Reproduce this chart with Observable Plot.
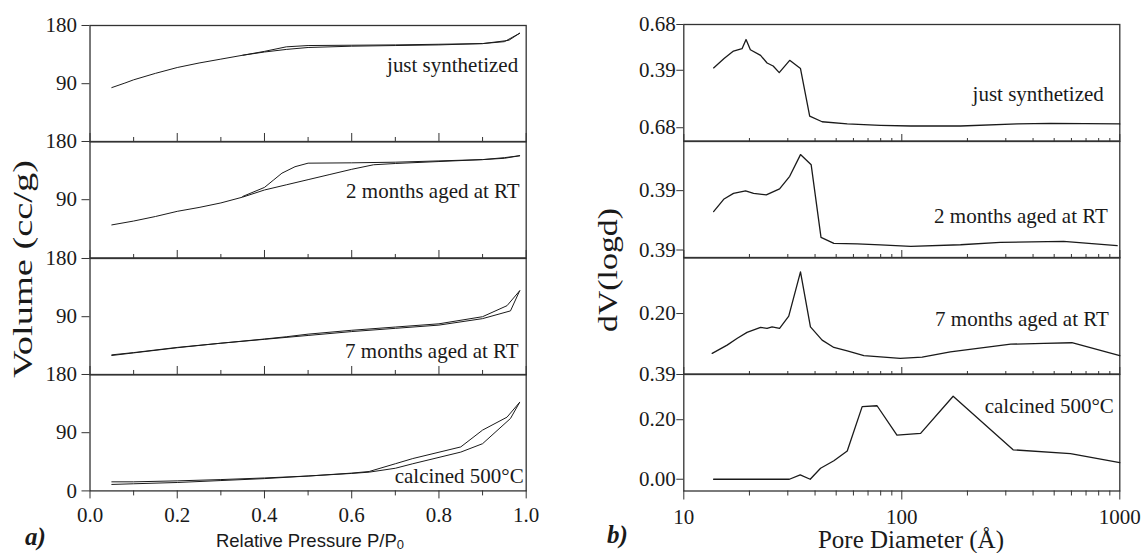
<!DOCTYPE html>
<html>
<head>
<meta charset="utf-8">
<script src="https://cdn.jsdelivr.net/npm/d3@7"></script>
<script src="https://cdn.jsdelivr.net/npm/@observablehq/plot@0.6"></script>
<style>
  html, body { margin: 0; padding: 0; background: #fff; }
  #fig { position: relative; width: 1143px; height: 553px; overflow: hidden; background: #fff; }
</style>
</head>
<body>
<div id="fig"></div>
<script>
// ---------------- DATA ----------------
// Left panel: N2 isotherms, Relative pressure P/P0 vs Volume (cc/g)
const pressureMajorTicks = [0, 0.2, 0.4, 0.6, 0.8, 1.0];
const pressureMinorTicks = [0.1, 0.3, 0.5, 0.7, 0.9];
const volumeTicksUpper = [180, 90];
const volumeTicksBottom = [180, 90, 0];
const sampleLabels = ["just synthetized", "2 months aged at RT", "7 months aged at RT", "calcined 500°C"];

const justAds = [[0.05,84],[0.08,91],[0.1,96],[0.15,106],[0.2,115],[0.25,122],[0.3,128],[0.35,134],[0.4,139],[0.45,143],[0.5,146],[0.6,148],[0.7,149],[0.8,150],[0.9,152],[0.95,155],[0.985,168]];
const justDes = [[0.985,168],[0.96,157],[0.9,152],[0.8,151],[0.7,150],[0.6,149.5],[0.5,149],[0.45,147],[0.4,140],[0.35,134]];
const twoAds = [[0.05,51],[0.1,57],[0.15,64],[0.2,72],[0.25,78],[0.3,85],[0.35,94],[0.4,105],[0.45,113],[0.5,121],[0.55,129],[0.6,137],[0.65,144],[0.7,146],[0.8,149],[0.9,152],[0.95,154],[0.985,158]];
const twoDes = [[0.985,158],[0.95,155],[0.9,152],[0.8,150],[0.7,148],[0.6,147],[0.5,146.5],[0.47,141],[0.44,131],[0.42,120],[0.4,109],[0.35,95]];
const sevenAds = [[0.05,30],[0.1,34],[0.2,42],[0.3,49],[0.4,55],[0.5,61],[0.6,67],[0.7,72],[0.8,77],[0.9,87],[0.964,99],[0.985,130]];
const sevenDes = [[0.985,130],[0.956,107],[0.9,90],[0.8,79],[0.7,74],[0.6,69],[0.5,63],[0.45,59],[0.4,55.5],[0.3,49],[0.2,42.5],[0.1,34.5],[0.05,31]];
const calcAds = [[0.05,10],[0.1,11],[0.2,13],[0.3,16],[0.4,19],[0.5,23],[0.6,27],[0.64,29],[0.7,35],[0.74,42],[0.85,60],[0.9,73],[0.964,112],[0.985,137]];
const calcDes = [[0.985,137],[0.956,114],[0.9,94],[0.85,68],[0.74,50],[0.7,42],[0.64,30],[0.6,27.5],[0.5,23],[0.4,20],[0.3,17.5],[0.2,15.5],[0.1,14],[0.05,14]];

// Right panel: pore size distribution, Pore diameter (Å) vs dV(logd)
const diameterMajorTicks = [10, 100, 1000];
const diameterMinorTicks = [20,30,40,50,60,70,80,90,200,300,400,500,600,700,800,900];

const justPsd = [[13.7,0.405],[15.3,0.464],[16.9,0.512],[18.5,0.527],[19.3,0.585],[20.2,0.52],[22.5,0.484],[24.1,0.436],[25.7,0.417],[27.4,0.375],[30.6,0.453],[34.3,0.401],[37.8,0.10],[43.1,0.064],[56.2,0.05],[79.8,0.041],[110,0.037],[186,0.037],[339,0.05],[481,0.054],[1000,0.05]];
const twoPsd = [[13.7,0.241],[15.3,0.320],[16.9,0.355],[19.2,0.371],[20.9,0.355],[23.9,0.345],[27.5,0.383],[30.6,0.462],[34.3,0.598],[38.4,0.534],[42.6,0.079],[48.8,0.042],[62.4,0.038],[79.8,0.032],[110,0.023],[186,0.033],[283,0.048],[552,0.054],[973,0.027]];
const sevenPsd = [[13.5,0.065],[15.8,0.093],[17.6,0.116],[19.5,0.136],[22.5,0.153],[24.1,0.150],[25.4,0.155],[27.5,0.150],[30.3,0.191],[34.3,0.341],[38.1,0.155],[43.1,0.110],[48.8,0.085],[56.2,0.073],[67,0.057],[98.4,0.048],[124,0.052],[167,0.070],[316,0.096],[448,0.099],[603,0.101],[1000,0.057]];
const calcPsd = [[13.7,0],[30.5,0],[34.2,0.0145],[38,0],[42.4,0.037],[48.8,0.062],[56.2,0.095],[65.8,0.244],[77,0.247],[95,0.148],[122,0.154],[172,0.279],[324,0.099],[594,0.086],[1000,0.056]];

const dvDomains = [[-0.058, 0.68], [-0.05, 0.68], [-0.005, 0.39], [-0.0395, 0.352]];
const dvTickValues = [[0.68, 0.39, 0.026], [0.372, 0], [0.2], [0.352, 0.2, 0]];
const dvTickLabels = [["0.68", "0.39", "0.68"], ["0.39", "0.39"], ["0.20"], ["0.39", "0.20", "0.00"]];

const isotherms = [[justAds, justDes], [twoAds, twoDes], [sevenAds, sevenDes], [calcAds, calcDes]];
const distributions = [justPsd, twoPsd, sevenPsd, calcPsd];

// ---------------- LAYOUT ----------------
const fig = document.getElementById("fig");
const SERIF = "'Liberation Serif', 'Times New Roman', serif";
const INK = "#1a1a1a";
const FRAME = "#333";

function place(svg, left, top) {
  svg.style.position = "absolute";
  svg.style.left = left + "px";
  svg.style.top = top + "px";
  fig.appendChild(svg);
}

// Left panel geometry
const L = {svgLeft: 0, width: 570, mLeft: 89.5, mRight: 44.3, tops: [25, 141.4, 257.8, 374.2], h: 116.4,
  labelDx: [-8, -6.5, -7.5, -2.5], labelDy: [47, 56.6, 99.2, 108.8]};
// Right panel geometry
const R = {svgLeft: 570, width: 573, mLeft: 113.3, mRight: 23.7, tops: [24, 140.5, 257, 373.5], h: 116.5,
  labelDx: [-16, -12, -11, -6], labelDy: [76, 81.2, 68, 38.2]};

const empty = () => "";

for (let k = 0; k < 4; k++) {
  const last = k === 3;
  const mt = 20, mb = last ? 60 : 20;
  const marks = [
    Plot.frame({stroke: FRAME, strokeWidth: 1.3}),
    Plot.line(isotherms[k][0], {x: d => d[0], y: d => d[1], stroke: INK, strokeWidth: 1}),
    Plot.line(isotherms[k][1], {x: d => d[0], y: d => d[1], stroke: INK, strokeWidth: 1}),
    Plot.axisY({ticks: last ? volumeTicksBottom : volumeTicksUpper, tickSize: 8, tickPadding: 5,
      tickFormat: d => String(d), label: null, stroke: FRAME, fill: INK, fontSize: 21}),
    Plot.text([sampleLabels[k]], {text: d => d, frameAnchor: "top-right", textAnchor: "end", lineAnchor: "bottom",
      dx: L.labelDx[k], dy: L.labelDy[k], fontSize: 21, fill: INK})
  ];
  if (k > 0) {
    marks.push(Plot.axisX({anchor: "top", ticks: pressureMajorTicks, tickSize: 9, tickFormat: empty, label: null, stroke: FRAME}));
    marks.push(Plot.axisX({anchor: "top", ticks: pressureMinorTicks, tickSize: 5, tickFormat: empty, label: null, stroke: FRAME}));
  }
  if (last) {
    marks.push(Plot.axisX({anchor: "bottom", ticks: pressureMajorTicks, tickSize: 8, tickPadding: 8,
      tickFormat: d3.format(".1f"), label: null, stroke: FRAME, fill: INK, fontSize: 21}));
    marks.push(Plot.axisX({anchor: "bottom", ticks: pressureMinorTicks, tickSize: 5, tickFormat: empty, label: null, stroke: FRAME}));
  }
  const svg = Plot.plot({
    width: L.width, height: L.h + mt + mb,
    marginLeft: L.mLeft, marginRight: L.mRight, marginTop: mt, marginBottom: mb,
    x: {domain: [0, 1], axis: null},
    y: {domain: [0, 180], axis: null},
    style: {fontFamily: SERIF, fontSize: "21px", overflow: "visible", background: "none", color: INK},
    marks
  });
  place(svg, L.svgLeft, L.tops[k] - mt);
}

for (let k = 0; k < 4; k++) {
  const last = k === 3;
  const mt = 20, mb = last ? 60 : 20;
  const tv = dvTickValues[k], tl = dvTickLabels[k];
  const marks = [
    Plot.frame({stroke: FRAME, strokeWidth: 1.3}),
    Plot.line(distributions[k], {x: d => d[0], y: d => d[1], stroke: INK, strokeWidth: 1.3}),
    Plot.axisY({ticks: tv, tickSize: 7, tickPadding: 1, tickFormat: d => tl[tv.indexOf(d)],
      label: null, stroke: FRAME, fill: INK, fontSize: 21}),
    Plot.text([sampleLabels[k]], {text: d => d, frameAnchor: "top-right", textAnchor: "end", lineAnchor: "bottom",
      dx: R.labelDx[k], dy: R.labelDy[k], fontSize: 21, fill: INK})
  ];
  if (k > 0) {
    marks.push(Plot.axisX({anchor: "top", ticks: diameterMajorTicks, tickSize: 8, tickFormat: empty, label: null, stroke: FRAME}));
    marks.push(Plot.axisX({anchor: "top", ticks: diameterMinorTicks, tickSize: 4, tickFormat: empty, label: null, stroke: FRAME}));
  }
  if (last) {
    marks.push(Plot.axisX({anchor: "bottom", ticks: diameterMajorTicks, tickSize: 9, tickPadding: 9,
      tickFormat: d => String(d), label: null, stroke: FRAME, fill: INK, fontSize: 21}));
    marks.push(Plot.axisX({anchor: "bottom", ticks: diameterMinorTicks, tickSize: 5, tickFormat: empty, label: null, stroke: FRAME}));
  }
  const svg = Plot.plot({
    width: R.width, height: R.h + mt + mb,
    marginLeft: R.mLeft, marginRight: R.mRight, marginTop: mt, marginBottom: mb,
    x: {type: "log", domain: [10, 1000], axis: null},
    y: {domain: dvDomains[k], axis: null},
    style: {fontFamily: SERIF, fontSize: "21px", overflow: "visible", background: "none", color: INK},
    marks
  });
  place(svg, R.svgLeft, R.tops[k] - mt);
}

// ---------------- TITLES ----------------
const overlay = d3.select(fig).append("svg")
  .attr("width", 1143).attr("height", 553)
  .style("position", "absolute").style("left", "0px").style("top", "0px")
  .style("pointer-events", "none");

overlay.append("text")
  .attr("transform", "translate(32,269) rotate(-90)")
  .attr("text-anchor", "middle").attr("font-family", SERIF).attr("font-size", 28).attr("fill", INK)
  .attr("textLength", 218).attr("lengthAdjust", "spacingAndGlyphs")
  .text("Volume (cc/g)");

overlay.append("text")
  .attr("transform", "translate(617,270) rotate(-90)")
  .attr("text-anchor", "middle").attr("font-family", SERIF).attr("font-size", 28).attr("fill", INK)
  .attr("textLength", 124).attr("lengthAdjust", "spacingAndGlyphs")
  .text("dV(logd)");

const xl = overlay.append("text")
  .attr("x", 310).attr("y", 546.7)
  .attr("text-anchor", "middle").attr("font-family", "'Liberation Sans', Arial, sans-serif")
  .attr("font-size", 18.5).attr("fill", INK);
xl.append("tspan").text("Relative Pressure P/P");
xl.append("tspan").attr("font-size", 13).attr("dy", 2).text("0");

overlay.append("text")
  .attr("x", 911).attr("y", 548)
  .attr("text-anchor", "middle").attr("font-family", SERIF).attr("font-size", 25).attr("fill", INK)
  .text("Pore Diameter (Å)");

overlay.append("text")
  .attr("x", 25).attr("y", 545)
  .attr("font-family", SERIF).attr("font-size", 25).attr("font-weight", "bold").attr("font-style", "italic").attr("fill", INK)
  .text("a)");

overlay.append("text")
  .attr("x", 607).attr("y", 543)
  .attr("font-family", SERIF).attr("font-size", 25).attr("font-weight", "bold").attr("font-style", "italic").attr("fill", INK)
  .text("b)");
</script>
</body>
</html>
